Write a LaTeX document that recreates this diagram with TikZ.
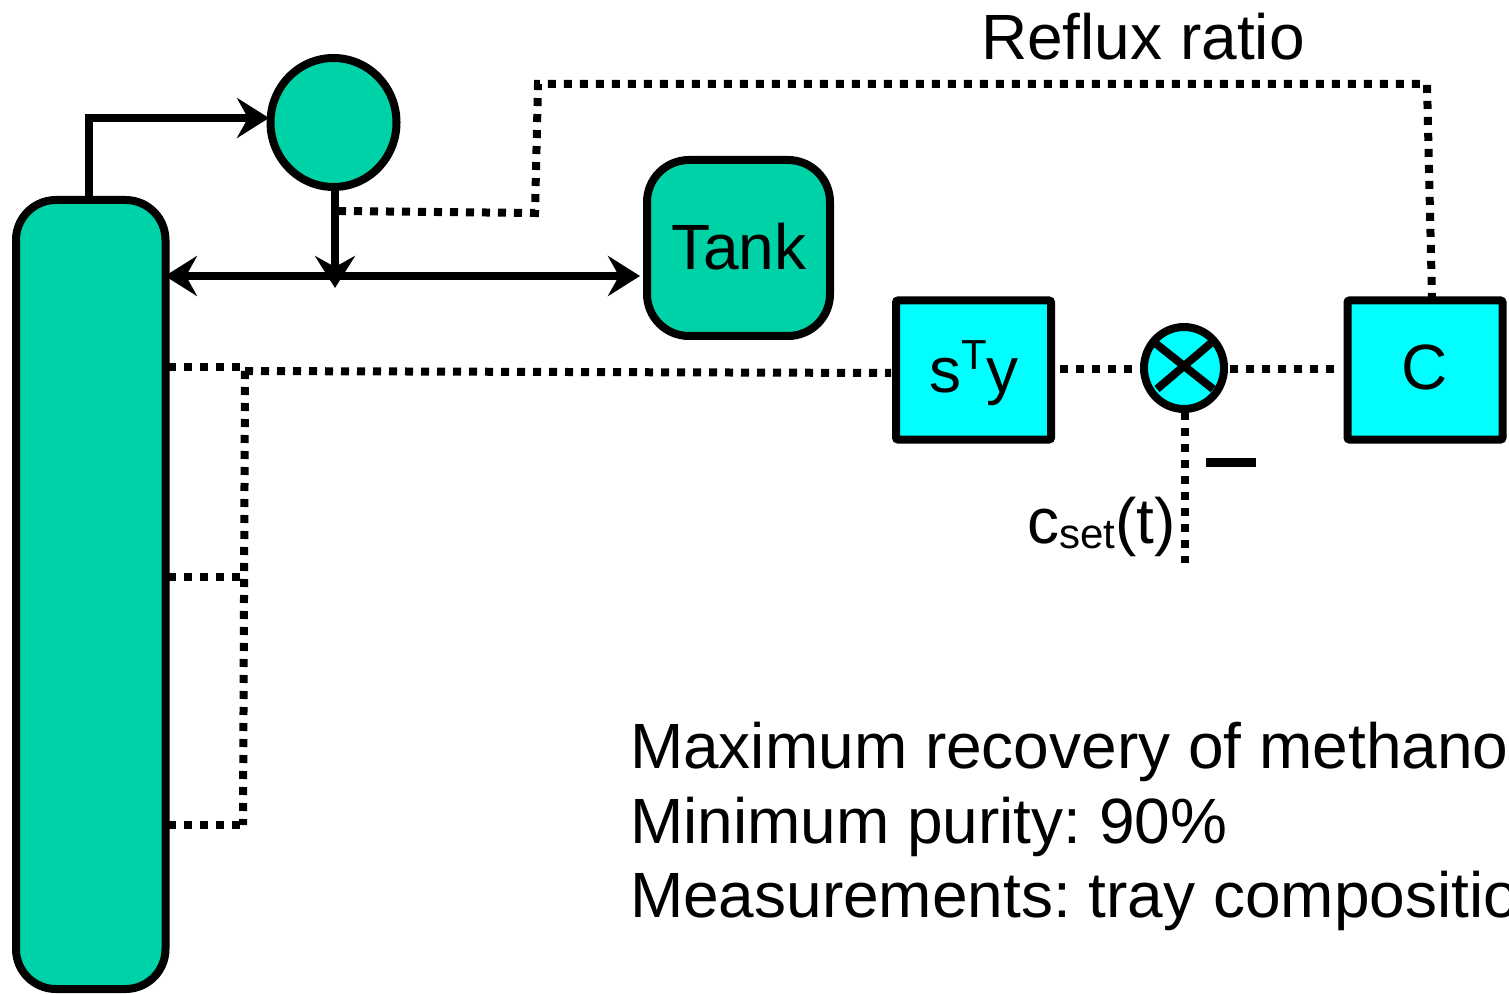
\documentclass[tikz,border=0pt]{standalone}
\usepackage{fontspec}
\setmainfont{Liberation Sans}
\usetikzlibrary{arrows.meta,shapes.geometric}
\definecolor{unitgreen}{HTML}{00D2A8}
\definecolor{ctrlcyan}{HTML}{00FFFF}
\frenchspacing
\tikzset{
  x=0.5pt,y=-0.5pt,
  unit/.style={draw=black,line width=4pt,inner sep=0pt,outer sep=0pt},
  vessel/.style={unit,fill=unitgreen},
  ctrlbox/.style={unit,fill=ctrlcyan,rounded corners=1pt,minimum width=77.5pt,minimum height=69.5pt},
  flow/.style={line width=4pt,-{Stealth[length=16pt,width=20pt,inset=5.5pt]}},
  flowtwo/.style={line width=4pt,{Stealth[length=16pt,width=20pt,inset=5.5pt]}-{Stealth[length=16pt,width=20pt,inset=5.5pt]}},
  signal/.style={line width=4pt,dash pattern=on 4pt off 4pt},
  label/.style={anchor=base west,inner sep=0pt,outer sep=0pt,font=\fontsize{32pt}{38pt}\selectfont}
}
\begin{document}
\begin{tikzpicture}
\useasboundingbox (0,0) rectangle (1509,994);
% units
\node[vessel,rounded corners=20pt,minimum width=74.75pt,minimum height=394.5pt] (col) at (90.75,594.5) {};
\node[vessel,rounded corners=21pt,minimum width=91.5pt,minimum height=88pt] (tank) at (738.5,248) {};
\node[vessel,ellipse,minimum width=63pt,minimum height=64.5pt] (cond) at (333.5,122.5) {};
\node[ctrlbox] (sty) at (973.5,370) {};
\node[ctrlbox] (ctl) at (1425,370) {};
\node[unit,fill=ctrlcyan,ellipse,minimum width=40pt,minimum height=41pt] (sum) at (1184,368) {};
% coordinates
\coordinate (topout) at (89,200);
\coordinate (topbend) at (89,118);
\coordinate (topin) at (269,118);
\coordinate (drawoff) at (335,190);
\coordinate (split) at (335,288);
\coordinate (colin) at (165,276);
\coordinate (tankin) at (640,276);
\coordinate (a1) at (338,211);
\coordinate (a2) at (535,213);
\coordinate (a3) at (538,84);
\coordinate (a4) at (1427,84);
\coordinate (a5) at (1432,298);
\coordinate (t1) at (168,367);
\coordinate (t1b) at (243,367);
\coordinate (t1c) at (245,371);
\coordinate (t2) at (168,577);
\coordinate (t2b) at (245,577);
\coordinate (t3) at (168,825);
\coordinate (t3b) at (243,825);
\coordinate (styin) at (891,373);
\coordinate (styout) at (1060,369);
\coordinate (sumin) at (1142,369);
\coordinate (sumout) at (1230,369);
\coordinate (ctlin) at (1336,369);
\coordinate (setb) at (1185,412);
\coordinate (sete) at (1185,563);
\coordinate (x1) at (1155,343);
\coordinate (x2) at (1213,389);
\coordinate (x3) at (1211,343);
\coordinate (x4) at (1157,389);
\coordinate (m1) at (1206,462.5);
\coordinate (m2) at (1256,462.5);
% flows
\draw[flow] (topout) -- (topbend) -- (topin);
\draw[flow] (drawoff) -- (split);
\draw[flowtwo] (colin) -- (tankin);
% signals
\draw[signal] (a1) -- (a2) -- (a3) -- (a4) -- (a5);
\draw[signal] (t1) -- (t1b);
\draw[signal] (t1c) -- (styin);
\draw[signal] (t1c) -- (t3b);
\draw[signal] (t2) -- (t2b);
\draw[signal] (t3) -- (t3b);
\draw[signal] (styout) -- (sumin);
\draw[signal] (sumout) -- (ctlin);
\draw[signal] (setb) -- (sete);
% summing cross and minus sign
\draw[line width=4pt] (x1) -- (x2);
\draw[line width=4pt] (x3) -- (x4);
\draw[line width=4.2pt] (m1) -- (m2);
% labels
\node[label] (refl) at (981,60) {Reflux ratio};
\node[label] (tanklbl) at (671,270) {Tank};
\node[label] (stylbl) at (929,393) {s\raisebox{0.36em}{\fontsize{21pt}{21pt}\selectfont T}y};
\node[label] (clbl) at (1401,390) {C};
\node[label] (csetlbl) at (1027,543) {c\raisebox{-0.08em}{\fontsize{21pt}{21pt}\selectfont set}(t)};
\node[label] (goal1) at (630,768) {Maximum recovery of methano};
\node[label] (goal2) at (630,843) {Minimum purity: 90\%};
\node[label] (goal3) at (630,917) {Measurements: tray compositio};
\end{tikzpicture}
\end{document}
